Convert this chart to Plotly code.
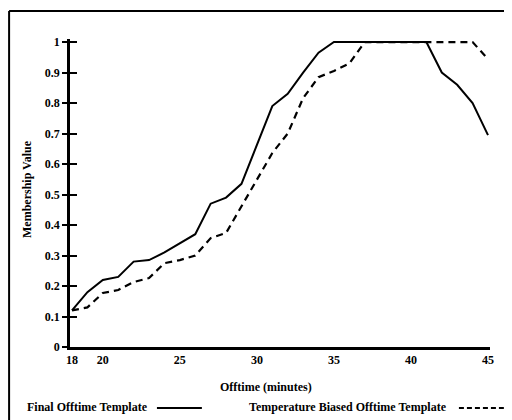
import plotly.graph_objects as go

minutes = list(range(18, 46))
final_template = [0.12, 0.18, 0.22, 0.23, 0.28, 0.285, 0.31, 0.34, 0.37, 0.47,
                  0.49, 0.535, 0.66, 0.79, 0.83, 0.90, 0.965, 1.0, 1.0, 1.0,
                  1.0, 1.0, 1.0, 1.0, 0.90, 0.86, 0.80, 0.695]
temp_biased = [0.12, 0.13, 0.177, 0.187, 0.213, 0.226, 0.275, 0.285, 0.30, 0.357,
               0.374, 0.46, 0.55, 0.636, 0.70, 0.816, 0.885, 0.905, 0.93, 1.0,
               1.0, 1.0, 1.0, 1.0, 1.0, 1.0, 1.0, 0.944]
x_ticks = [18, 20, 25, 30, 35, 40, 45]
y_ticks = [0, 0.1, 0.2, 0.3, 0.4, 0.5, 0.6, 0.7, 0.8, 0.9, 1]
y_tick_text = ["0", "0.1", "0.2", "0.3", "0.4", "0.5", "0.6", "0.7", "0.8", "0.9", "1"]

FONT = "Liberation Serif"

fig = go.Figure()
fig.add_trace(go.Scatter(x=minutes, y=final_template, mode="lines",
                         name="Final Offtime Template",
                         line=dict(color="black", width=2)))
fig.add_trace(go.Scatter(x=minutes, y=temp_biased, mode="lines",
                         name="Temperature Biased Offtime Template",
                         line=dict(color="black", width=2.2, dash="7px,5px")))

fig.update_layout(
    width=504, height=412,
    margin=dict(l=62, r=22, t=31, b=73),
    paper_bgcolor="white", plot_bgcolor="white",
    showlegend=False,
    font=dict(family=FONT, size=12, color="black"),
    xaxis=dict(range=[17.87, 45.13], tickvals=x_ticks, ticks="", showgrid=False,
               zeroline=False, showline=True, linecolor="black", linewidth=2.5,
               tickfont=dict(family=FONT, size=12, weight="bold")),
    yaxis=dict(range=[0, 1.01], tickvals=y_ticks, ticktext=y_tick_text,
               ticks="outside", ticklen=5, tickwidth=2, tickcolor="black",
               showgrid=False, zeroline=False, showline=True, linecolor="black",
               linewidth=2.5, tickfont=dict(family=FONT, size=12, weight="bold")),
    yaxis2=dict(range=[0, 1.01], tickvals=y_ticks, overlaying="y", side="left",
                matches="y", ticks="inside", ticklen=7, tickwidth=2, tickcolor="black",
                showticklabels=False, showgrid=False, zeroline=False, showline=False),
)
# invisible trace to activate yaxis2 ticks
fig.add_trace(go.Scatter(x=[minutes[0]], y=[final_template[0]], yaxis="y2",
                         mode="lines", line=dict(width=0), hoverinfo="skip",
                         showlegend=False))

# frame border (top and left)
fig.add_shape(type="line", xref="paper", yref="paper", x0=-0.145, x1=1.1,
              y0=1.091, y1=1.091, line=dict(color="black", width=2))
fig.add_shape(type="line", xref="paper", yref="paper", x0=-0.145, x1=-0.145,
              y0=1.091, y1=-0.3, line=dict(color="black", width=2))

# titles
fig.add_annotation(text="<b>Membership Value</b>", xref="paper", yref="paper",
                   x=-0.1024, y=0.513, textangle=-90, showarrow=False,
                   font=dict(family=FONT, size=12), xanchor="center", yanchor="middle")
fig.add_annotation(text="<b>Offtime (minutes)</b>", xref="paper", yref="paper",
                   x=0.4667, y=-0.1299, showarrow=False,
                   font=dict(family=FONT, size=12), xanchor="center", yanchor="middle")

# legend (text followed by line sample)
fig.add_annotation(text="<b>Final Offtime Template</b>", xref="paper", yref="paper",
                   x=-0.107, y=-0.1948, showarrow=False, xanchor="left", yanchor="middle",
                   font=dict(family=FONT, size=12))
fig.add_shape(type="line", xref="paper", yref="paper", x0=0.207, x1=0.314,
              y0=-0.198, y1=-0.198, line=dict(color="black", width=2))
fig.add_annotation(text="<b>Temperature Biased Offtime Template</b>", xref="paper", yref="paper",
                   x=0.4214, y=-0.1948, showarrow=False, xanchor="left", yanchor="middle",
                   font=dict(family=FONT, size=12))
fig.add_shape(type="line", xref="paper", yref="paper", x0=0.926, x1=1.033,
              y0=-0.198, y1=-0.198, line=dict(color="black", width=2, dash="5px,3px"))

fig.write_html("out.html")
